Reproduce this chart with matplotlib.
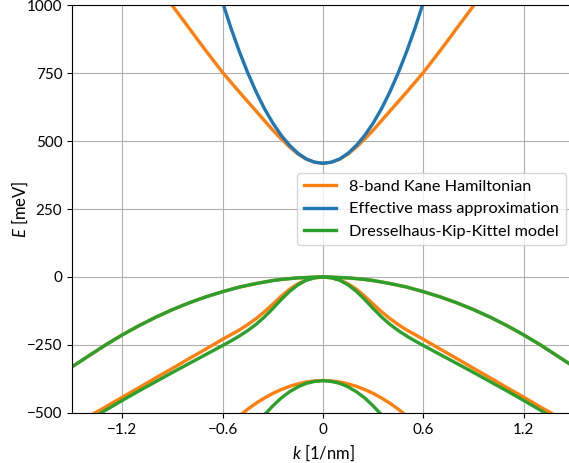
import numpy as np
import matplotlib
matplotlib.use("Agg")
import matplotlib.pyplot as plt

# Bandas (solo k >= 0, se reflejan por simetría)
k_cb_kane = [0, 0.05, 0.1, 0.15, 0.2, 0.25, 0.3, 0.35, 0.4, 0.45, 0.5, 0.55, 0.6,
             0.65, 0.7, 0.75, 0.8, 0.85, 0.9, 0.95, 1.0]
E_cb_kane = [418, 422, 433, 452, 478, 508, 540, 575, 610, 645, 680, 716, 752,
             792, 832, 873, 915, 956, 998, 1039, 1080]

k_cb_eff = [0, 0.05, 0.1, 0.15, 0.2, 0.25, 0.3, 0.35, 0.4, 0.45, 0.5, 0.55, 0.6, 0.65]
E_cb_eff = [418, 422, 434, 455, 484, 521, 566, 619, 681, 751, 829, 915, 1010, 1112]

k_hh = [0, 0.05, 0.1, 0.15, 0.2, 0.25, 0.3, 0.4, 0.5, 0.6, 0.7, 0.8, 0.9, 1.0,
        1.1, 1.2, 1.3, 1.4, 1.5]
E_hh = [0, -0.4, -2, -3.3, -6, -9, -13, -24, -37, -54, -73, -95, -120, -148,
        -179, -213, -250, -290, -330]

k_lh = [0, 0.05, 0.1, 0.15, 0.2, 0.25, 0.3, 0.35, 0.4, 0.45, 0.5, 0.55, 0.6,
        0.7, 0.8, 0.9, 1.0, 1.1, 1.2, 1.3, 1.4]
E_lh_kane = [0, -3, -11, -25, -45, -71, -100, -128, -153, -175, -195, -212, -229,
             -265, -300, -336, -371, -407, -442, -478, -513]
E_lh_dkk = [0, -3, -12, -29, -53, -83, -116, -147, -174, -197, -217, -235, -252,
            -285, -318, -351, -385, -419, -454, -490, -527]

k_so = [0, 0.05, 0.1, 0.15, 0.2, 0.25, 0.3, 0.35, 0.4, 0.45, 0.5]
E_so_kane = [-381, -382, -386, -393, -402, -414, -428, -445, -464, -486, -511]
E_so_dkk = [-381, -384, -391, -404, -422, -445, -474, -507, -546, -590, -640]

x_ticks = [-1.2, -0.6, 0, 0.6, 1.2]
x_labels = ['\u22121.2', '\u22120.6', '0', '0.6', '1.2']
y_ticks = [-500, -250, 0, 250, 500, 750, 1000]


def mirror(k, E):
    k = np.asarray(k, dtype=float)
    E = np.asarray(E, dtype=float)
    return np.concatenate([-k[::-1], k[1:]]), np.concatenate([E[::-1], E[1:]])


plt.rcParams['font.family'] = ['Lato', 'DejaVu Sans']
plt.rcParams['mathtext.fontset'] = 'custom'
plt.rcParams['mathtext.it'] = 'Lato:italic'
plt.rcParams['mathtext.rm'] = 'Lato'

fig = plt.figure(figsize=(5.69, 4.63), dpi=100)
ax = fig.add_axes([72/569, 50/463, (574-72)/569, (413-5)/463])

c_kane = '#ff7f0e'
c_eff = '#1f77b4'
c_dkk = '#2ca02c'
lw = 2.4

# 8 bandas Kane
kk, ee = mirror(k_cb_kane, E_cb_kane)
ax.plot(kk, ee, color=c_kane, lw=lw, label='8-band Kane Hamiltonian')
for k, E in [(k_hh, E_hh), (k_lh, E_lh_kane), (k_so, E_so_kane)]:
    kk, ee = mirror(k, E)
    ax.plot(kk, ee, color=c_kane, lw=lw)

# masa efectiva
kk, ee = mirror(k_cb_eff, E_cb_eff)
ax.plot(kk, ee, color=c_eff, lw=lw, label='Effective mass approximation')

# DKK
kk, ee = mirror(k_hh, E_hh)
ax.plot(kk, ee, color=c_dkk, lw=lw, label='Dresselhaus-Kip-Kittel model')
for k, E in [(k_lh, E_lh_dkk), (k_so, E_so_dkk)]:
    kk, ee = mirror(k, E)
    ax.plot(kk, ee, color=c_dkk, lw=lw)

ax.set_xlim(-1.5, 1.5)
ax.set_ylim(-500, 1000)
ax.set_xticks(x_ticks)
ax.set_xticklabels(x_labels)
ax.set_yticks(y_ticks)
ax.tick_params(labelsize=11)
ax.grid(True, color='#b0b0b0', lw=0.8)
ax.set_axisbelow(True)

ax.set_xlabel(r'$k$ [1/nm]', fontsize=12)
ax.set_ylabel(r'$E$ [meV]', fontsize=12, labelpad=-2)

ax.legend(loc='center right', fontsize=11.7)

fig.savefig('out.png', dpi=100)
